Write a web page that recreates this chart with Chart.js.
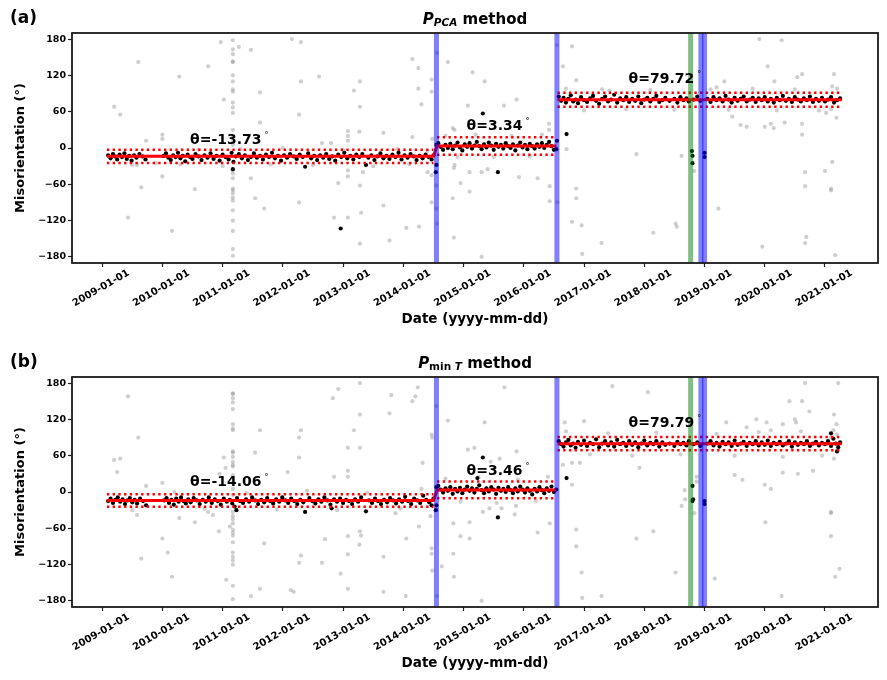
<!DOCTYPE html>
<html><head><meta charset="utf-8">
<script src="https://cdn.jsdelivr.net/npm/chart.js@4/dist/chart.umd.min.js"></script>
<style>
html,body{margin:0;padding:0;background:#fff;overflow:hidden;width:887px;height:680px}
canvas{display:block}
</style></head>
<body>
<canvas id="ca" width="887" height="344"></canvas>
<canvas id="cb" width="887" height="344"></canvas>
<script>
// ---------- axis ticks ----------
const xTickYears = [2009,2010,2011,2012,2013,2014,2015,2016,2017,2018,2019,2020,2021];
const xTickLabels = ['2009-01-01','2010-01-01','2011-01-01','2012-01-01','2013-01-01','2014-01-01','2015-01-01','2016-01-01','2017-01-01','2018-01-01','2019-01-01','2020-01-01','2021-01-01'];
const yTickValues = [-180,-120,-60,0,60,120,180];
const yTickLabels = ['\u2212180','\u2212120','\u221260','0','60','120','180'];

// ---------- change points (decimal years) ----------
const blueLines = [2014.55, 2016.55, 2018.94, 2019.0];
const greenLines = [2018.77];

// ---------- segments ----------
const segStart = [2009.08, 2014.56, 2016.56];
const segEnd   = [2014.50, 2016.54, 2021.28];
const thetaA = [-13.73, 3.34, 79.72];
const bandHalfA = [11.0, 14.5, 11.7];
const thetaB = [-14.06, 3.46, 79.79];
const bandHalfB = [10.3, 13.8, 10.9];

// ---------- panel (a) points [year, degrees] ----------
const grayA = [
[2009.2,68],[2009.3,55],[2009.6,142],[2009.73,12],[2010.0,22],[2010.0,15],[2010.28,118],[2010.76,135],[2010.97,175],[2011.02,80],
[2011.17,178],[2011.17,163],[2011.17,155],[2011.17,143],[2011.17,142],[2011.17,120],[2011.17,110],[2011.17,97],[2011.17,93],[2011.17,75],[2011.17,67],[2011.17,58],[2011.17,30],[2011.17,20],[2011.17,10],[2011.17,5],
[2011.17,-37],[2011.17,-42],[2011.17,-50],[2011.17,-67],[2011.17,-70],[2011.17,-75],[2011.17,-82],[2011.17,-87],[2011.17,-103],[2011.17,-120],[2011.17,-137],[2011.17,-167],[2011.17,-178],
[2011.27,167],[2011.47,162],[2011.62,92],[2011.62,42],[2012.15,180],[2012.3,175],[2012.27,55],[2012.3,110],[2012.6,118],[2012.65,8],[2012.8,8],
[2013.08,28],[2013.08,20],[2013.08,12],[2013.18,95],[2013.28,110],[2013.28,68],[2013.27,27],[2013.67,25],[2014.15,147],[2014.25,98],[2014.25,132],[2014.3,72],[2014.15,18],[2014.47,113],[2014.47,93],[2014.48,15],
[2009.58,-28],[2009.65,-65],[2009.43,-115],[2010.0,-47],[2010.16,-137],[2010.54,-68],[2011.47,-50],[2011.54,-83],[2011.69,-100],[2012.27,-90],[2012.85,-115],[2012.92,-58],
[2013.08,-37],[2013.08,-47],[2013.08,-115],[2013.28,-62],[2013.3,-107],[2013.28,-158],[2013.33,-40],[2013.67,-95],[2013.77,-153],[2014.05,-132],[2014.26,-130],[2014.47,-90],[2014.4,-40],[2014.47,-45],
[2009.5,-28],[2009.9,-25],[2010.3,-27],[2010.6,-3],[2011.0,-30],[2011.3,-2],[2011.8,-27],[2012.0,0],[2012.5,-28],[2013.0,-3],[2013.5,-30],[2013.9,-2],[2014.1,-27],[2014.4,-5],
[2014.56,157],[2014.55,-62],[2014.55,-100],[2014.56,-125],[2016.55,170],[2016.56,-90],
[2014.74,142],[2015.15,125],[2015.35,110],[2015.88,80],[2015.67,70],[2015.07,70],[2014.82,33],[2014.85,30],[2016.42,40],[2016.42,30],[2016.65,135],[2016.8,168],[2016.87,112],[2017.42,95],[2018.3,118],
[2019.91,180],[2020.28,178],[2020.05,135],[2019.33,110],[2019.2,100],[2020.16,110],[2020.54,117],[2020.62,122],[2021.15,122],[2021.12,102],[2019.46,52],[2019.6,38],[2019.7,35],[2020.0,35],[2020.1,40],[2020.15,33],[2020.33,42],[2020.62,22],[2020.62,40],[2021.02,58],[2021.19,50],
[2014.7,20],[2014.9,-15],[2015.2,22],[2015.5,-15],[2015.8,20],[2016.1,-14],[2016.3,22],
[2016.7,98],[2017.0,62],[2017.3,97],[2017.7,64],[2018.1,96],[2018.5,63],[2019.1,97],[2019.4,63],[2019.8,98],[2020.2,62],[2020.5,97],[2020.9,62],[2021.2,98],[2021.1,64],
[2014.85,-28],[2014.84,-33],[2014.95,-58],[2014.82,-83],[2014.84,-148],[2015.1,-40],[2015.1,-72],[2015.3,-40],[2015.3,-180],[2015.4,-35],[2015.92,-48],[2016.23,-50],[2016.43,-63],[2016.43,-88],
[2016.71,-2],[2016.87,-67],[2016.87,-83],[2016.8,-122],[2016.96,-128],[2016.97,-175],[2017.29,-157],[2017.87,-10],[2018.15,-140],[2018.52,-125],[2018.54,-130],[2018.62,-13],[2018.83,-38],
[2019.23,-100],[2019.96,-163],[2020.67,-40],[2020.67,-63],[2020.69,-147],[2020.67,-157],[2021.0,-38],[2021.12,-23],[2021.1,-67],[2021.1,-70],[2021.17,-177]
];
const blackA = [
[2009.10,-12],[2009.14,-17],[2009.18,-10],[2009.21,-14],[2009.25,-19],[2009.29,-11],[2009.33,-15],[2009.37,-9],[2009.41,-18],[2009.45,-13],[2009.49,-21],[2009.53,-12],[2009.57,-16],[2009.62,-10],[2009.67,-14],[2009.72,-19],
[2010.02,-13],[2010.06,-9],[2010.10,-16],[2010.14,-20],[2010.18,-12],[2010.22,-15],[2010.26,-8],[2010.30,-17],[2010.34,-13],[2010.38,-22],[2010.42,-11],[2010.46,-15],[2010.50,-18],[2010.55,-10],[2010.60,-14],[2010.65,-20],
[2010.70,-12],[2010.75,-16],[2010.80,-9],[2010.85,-18],[2010.90,-13],[2010.95,-21],[2011.00,-11],[2011.05,-15],[2011.10,-19],[2011.15,-8],[2011.18,-23],[2011.22,-14],[2011.27,-10],[2011.32,-17],[2011.37,-12],[2011.42,-20],
[2011.47,-15],[2011.52,-9],[2011.57,-16],[2011.62,-13],[2011.67,-19],[2011.72,-11],[2011.77,-15],[2011.82,-8],[2011.87,-17],[2011.92,-13],[2011.97,-21],[2012.02,-12],[2012.07,-16],[2012.12,-10],[2012.18,-14],[2012.23,-18],
[2012.28,-11],[2012.33,-15],[2012.42,-9],[2012.47,-17],[2012.52,-13],[2012.57,-20],[2012.62,-12],[2012.67,-16],[2012.72,-10],[2012.77,-18],[2012.82,-14],[2012.87,-21],[2012.92,-11],[2012.97,-15],[2013.02,-8],[2013.07,-17],
[2013.12,-13],[2013.17,-19],[2013.22,-11],[2013.27,-15],[2013.32,-10],[2013.42,-16],[2013.47,-12],[2013.52,-20],[2013.57,-14],[2013.62,-9],[2013.67,-17],[2013.72,-13],[2013.77,-18],[2013.82,-11],[2013.87,-15],[2013.92,-8],
[2013.97,-19],[2014.02,-12],[2014.07,-16],[2014.12,-10],[2014.17,-14],[2014.22,-20],[2014.27,-13],[2014.32,-17],[2014.37,-11],[2014.42,-15],[2014.47,-19],[2014.50,-12],
[2012.96,-133],[2012.37,-31],[2013.38,-28],[2011.17,-35],[2014.54,-40],[2014.55,-28],[2014.55,5],
[2014.58,8],[2014.62,2],[2014.66,-3],[2014.70,5],[2014.74,0],[2014.78,7],[2014.82,-2],[2014.86,4],[2014.90,9],[2014.94,1],[2014.98,-4],[2015.02,6],[2015.06,2],[2015.10,8],[2015.14,-1],[2015.18,4],
[2015.22,10],[2015.26,3],[2015.30,-2],[2015.34,6],[2015.38,1],[2015.42,9],[2015.46,4],[2015.50,-3],[2015.54,7],[2015.58,2],[2015.62,5],[2015.66,-1],[2015.70,8],[2015.74,3],[2015.78,0],[2015.82,6],
[2015.86,-4],[2015.90,4],[2015.94,9],[2015.98,1],[2016.02,5],[2016.06,-2],[2016.10,7],[2016.14,3],[2016.18,-1],[2016.22,6],[2016.26,2],[2016.30,8],[2016.34,0],[2016.38,5],[2016.42,10],[2016.46,3],[2016.50,-3],
[2015.32,57],[2016.71,23],[2015.57,-40],[2016.54,-2],[2016.55,12],
[2016.58,85],[2016.62,78],[2016.66,83],[2016.70,75],[2016.74,81],[2016.78,87],[2016.82,77],[2016.86,80],[2016.90,74],[2016.95,84],[2017.00,79],[2017.05,76],[2017.10,82],[2017.15,86],[2017.20,78],[2017.25,73],
[2017.30,81],[2017.35,85],[2017.40,77],[2017.45,80],[2017.50,88],[2017.55,75],[2017.60,82],[2017.65,79],[2017.70,84],[2017.75,76],[2017.80,81],[2017.85,78],[2017.90,85],[2017.95,74],[2018.00,80],[2018.05,83],
[2018.10,77],[2018.15,81],[2018.20,86],[2018.25,76],[2018.30,79],[2018.35,83],[2018.42,78],[2018.50,81],[2018.55,75],[2018.60,84],[2018.65,79],[2018.70,82],[2018.74,77],[2018.82,80],[2018.88,85],[2018.93,78],
[2019.05,81],[2019.10,76],[2019.15,84],[2019.20,79],[2019.25,82],[2019.30,77],[2019.35,86],[2019.40,80],[2019.45,75],[2019.50,83],[2019.55,78],[2019.60,81],[2019.65,85],[2019.70,77],[2019.75,80],[2019.80,83],
[2019.85,76],[2019.90,82],[2019.95,79],[2020.00,84],[2020.05,77],[2020.10,81],[2020.15,75],[2020.20,83],[2020.25,79],[2020.30,86],[2020.35,78],[2020.40,81],[2020.45,76],[2020.50,84],[2020.55,80],[2020.60,77],
[2020.65,82],[2020.70,79],[2020.75,85],[2020.80,76],[2020.85,81],[2020.90,78],[2020.95,83],[2021.00,77],[2021.05,80],[2021.10,84],[2021.15,75],[2021.20,79],[2021.25,82],
[2018.79,-5],[2018.80,-13],[2018.80,-25],[2019.0,-8],[2019.0,-15]
];

// ---------- panel (b) points [year, degrees] ----------
const grayB = [
[2009.2,53],[2009.3,55],[2009.25,33],[2009.43,158],[2009.6,90],[2009.73,10],[2010.0,15],
[2011.17,163],[2011.17,162],[2011.17,155],[2011.17,148],[2011.17,137],[2011.17,112],[2011.17,105],[2011.17,102],[2011.17,67],[2011.17,65],[2011.17,58],[2011.17,50],[2011.17,45],[2011.17,42],[2011.17,28],[2011.17,15],[2011.17,5],[2011.17,-5],
[2011.17,-33],[2011.17,-40],[2011.17,-45],[2011.17,-52],[2011.17,-62],[2011.17,-67],[2011.17,-72],[2011.17,-83],[2011.17,-100],[2011.17,-107],[2011.17,-113],[2011.17,-120],[2011.17,-155],[2011.17,-177],
[2011.02,57],[2011.05,40],[2010.95,30],[2011.54,65],[2011.62,102],[2012.08,33],[2012.27,90],[2012.3,102],[2012.27,57],[2012.83,155],[2012.92,170],[2013.28,180],[2013.28,128],[2013.18,102],[2013.08,73],[2013.28,73],
[2013.08,35],[2013.08,25],[2012.85,25],[2013.77,130],[2013.8,160],[2014.15,150],[2014.2,158],[2014.24,173],[2014.32,48],[2014.47,95],[2014.48,90],[2014.55,142],[2014.74,118],
[2009.58,-38],[2009.65,-110],[2010.0,-77],[2010.09,-100],[2010.16,-140],[2010.28,-43],[2010.54,-50],[2010.76,-33],[2010.84,-38],[2010.94,-65],[2011.06,-145],[2011.12,-57],[2011.47,-172],[2011.62,-160],[2011.69,-85],
[2012.13,-162],[2012.18,-165],[2012.27,-117],[2012.3,-105],[2012.65,-117],[2012.7,-78],[2012.96,-135],[2013.08,-73],[2013.08,-103],[2013.08,-160],[2013.28,-65],[2013.3,-72],[2013.27,-87],[2013.67,-107],[2013.67,-165],
[2013.87,-35],[2014.04,-172],[2014.05,-77],[2014.26,-57],[2014.47,-93],[2014.47,-102],[2014.48,-130],[2014.64,-123],[2014.56,-172],
[2009.5,-30],[2010.2,0],[2010.7,-28],[2011.4,-2],[2011.9,-29],[2012.4,2],[2012.9,-30],[2013.4,-1],[2013.95,-27],[2014.3,5],[2014.45,-40],
[2015.68,173],[2015.35,115],[2015.07,70],[2015.18,73],[2015.88,67],[2015.6,55],[2015.45,50],[2017.47,175],[2018.06,165],[2020.67,180],[2021.22,180],[2020.41,150],[2020.62,150],[2020.74,133],[2020.5,120],[2020.52,115],
[2021.15,128],[2021.19,112],[2021.14,102],[2019.7,107],[2020.03,115],[2020.3,112],[2019.86,120],[2020.1,102],[2019.36,115],[2016.68,115],[2017.0,117],[2016.65,45],[2016.8,48],[2016.93,48],[2016.8,12],[2017.92,40],
[2018.67,3],[2018.68,-12],[2018.87,25],[2018.87,17],[2019.5,28],[2019.63,20],[2020.0,12],[2020.1,5],[2020.3,32],[2020.55,30],[2020.8,35],[2021.1,-35],
[2016.7,100],[2017.1,62],[2017.4,97],[2017.8,60],[2018.2,98],[2018.6,62],[2019.2,96],[2019.5,60],[2019.9,99],[2020.3,58],[2020.6,100],[2020.95,60],[2021.2,95],[2021.15,55],[2021.22,70],[2021.1,90],
[2014.7,22],[2014.95,-16],[2015.25,24],[2015.55,-18],[2015.9,21],[2016.2,-15],[2016.4,25],
[2014.83,-52],[2014.83,-102],[2014.84,-140],[2014.95,-73],[2015.1,-77],[2015.1,-50],[2015.3,-180],[2015.32,-33],[2015.43,-27],[2015.63,-27],[2015.85,-37],[2015.87,-23],[2016.23,-67],[2016.43,-52],
[2016.87,-62],[2016.87,-90],[2016.96,-133],[2016.97,-175],[2017.29,-172],[2017.87,-77],[2018.15,-65],[2018.52,-133],[2018.62,-23],[2018.83,-35],[2019.17,-143],[2020.01,-50],[2020.28,-172],
[2021.1,-33],[2021.1,-73],[2021.24,-127],[2021.17,-140]
];
const blackB = [
[2009.10,-15],[2009.14,-11],[2009.18,-18],[2009.22,-13],[2009.26,-9],[2009.30,-16],[2009.34,-12],[2009.38,-20],[2009.42,-14],[2009.46,-10],[2009.50,-17],[2009.54,-13],[2009.58,-19],[2009.63,-11],[2009.68,-15],[2009.73,-22],
[2010.03,-14],[2010.07,-10],[2010.11,-18],[2010.15,-13],[2010.19,-21],[2010.23,-11],[2010.27,-16],[2010.31,-9],[2010.35,-15],[2010.39,-19],[2010.43,-12],[2010.47,-17],[2010.52,-10],[2010.57,-14],[2010.62,-20],[2010.67,-13],
[2010.72,-16],[2010.77,-9],[2010.82,-18],[2010.87,-12],[2010.92,-15],[2010.97,-21],[2011.02,-11],[2011.07,-16],[2011.12,-13],[2011.16,-19],[2011.20,-24],[2011.24,-10],[2011.29,-15],[2011.34,-18],[2011.39,-12],[2011.44,-16],
[2011.49,-9],[2011.54,-14],[2011.59,-20],[2011.64,-13],[2011.69,-17],[2011.74,-10],[2011.79,-15],[2011.84,-19],[2011.89,-12],[2011.94,-16],[2011.99,-9],[2012.04,-14],[2012.09,-18],[2012.14,-11],[2012.19,-15],[2012.24,-20],
[2012.29,-13],[2012.34,-17],[2012.44,-10],[2012.49,-15],[2012.54,-19],[2012.59,-12],[2012.64,-16],[2012.69,-9],[2012.74,-14],[2012.79,-21],[2012.85,-12],[2012.90,-16],[2012.95,-11],[2013.00,-18],[2013.05,-13],[2013.10,-15],
[2013.15,-20],[2013.20,-12],[2013.25,-16],[2013.30,-9],[2013.43,-14],[2013.48,-18],[2013.53,-11],[2013.58,-15],[2013.63,-20],[2013.68,-13],[2013.73,-17],[2013.78,-10],[2013.83,-14],[2013.88,-19],[2013.93,-12],[2013.98,-16],
[2014.03,-8],[2014.08,-15],[2014.13,-20],[2014.18,-11],[2014.23,-14],[2014.28,-18],[2014.33,-6],[2014.38,-13],[2014.43,-17],[2014.47,-22],[2014.50,-11],
[2012.37,-33],[2013.38,-32],[2011.23,-30],[2012.81,-27],[2014.54,-30],[2014.55,-22],[2014.55,8],
[2014.58,10],[2014.62,4],[2014.66,-1],[2014.70,6],[2014.74,2],[2014.78,8],[2014.82,-3],[2014.86,5],[2014.90,1],[2014.94,7],[2014.98,-2],[2015.02,4],[2015.06,9],[2015.10,2],[2015.14,6],[2015.18,-1],
[2015.22,5],[2015.26,11],[2015.30,3],[2015.34,-2],[2015.38,6],[2015.42,1],[2015.46,8],[2015.50,4],[2015.54,-3],[2015.58,7],[2015.62,2],[2015.66,5],[2015.70,0],[2015.74,8],[2015.78,3],[2015.82,-2],
[2015.86,6],[2015.90,1],[2015.94,9],[2015.98,4],[2016.02,-1],[2016.06,6],[2016.10,2],[2016.14,-4],[2016.18,5],[2016.22,1],[2016.26,8],[2016.30,3],[2016.34,-2],[2016.38,6],[2016.42,2],[2016.46,9],[2016.50,0],
[2015.32,57],[2015.23,23],[2016.71,23],[2015.57,-42],[2016.54,4],
[2016.58,84],[2016.62,79],[2016.66,75],[2016.70,82],[2016.74,86],[2016.78,77],[2016.82,80],[2016.86,73],[2016.90,83],[2016.95,78],[2017.00,85],[2017.05,76],[2017.10,81],[2017.15,79],[2017.20,87],[2017.25,74],
[2017.30,80],[2017.35,84],[2017.40,77],[2017.45,82],[2017.50,75],[2017.55,86],[2017.60,79],[2017.65,81],[2017.70,76],[2017.75,84],[2017.80,78],[2017.85,82],[2017.90,74],[2017.95,80],[2018.00,85],[2018.05,77],
[2018.10,81],[2018.15,79],[2018.20,84],[2018.25,75],[2018.30,82],[2018.35,78],[2018.42,80],[2018.50,76],[2018.55,83],[2018.60,79],[2018.65,81],[2018.70,77],[2018.74,84],[2018.82,79],[2018.88,82],[2018.93,76],
[2019.05,80],[2019.10,84],[2019.15,77],[2019.20,81],[2019.25,75],[2019.30,83],[2019.35,79],[2019.40,82],[2019.45,76],[2019.50,85],[2019.55,78],[2019.60,80],[2019.65,83],[2019.70,76],[2019.75,81],[2019.80,79],
[2019.85,84],[2019.90,77],[2019.95,82],[2020.00,78],[2020.05,85],[2020.10,76],[2020.15,81],[2020.20,79],[2020.25,83],[2020.30,77],[2020.35,80],[2020.40,84],[2020.45,75],[2020.50,82],[2020.55,78],[2020.60,81],
[2020.65,79],[2020.70,84],[2020.75,76],[2020.80,80],[2020.85,83],[2020.90,77],[2020.95,81],[2021.00,79],[2021.05,84],[2021.10,76],[2021.14,88],[2021.18,80],[2021.22,74],[2021.25,82],
[2021.10,97],[2021.20,67],[2018.80,10],[2018.80,-15],[2018.81,-12],[2019.0,-15],[2019.0,-20]
];

// ---------- build ----------
const toXY = arr => arr.map(p => ({x: p[0], y: p[1]}));
function vline(x){ return [{x:x,y:-190},{x:x,y:190}]; }
function redSolid(theta){
  return [
    {x:segStart[0],y:theta[0]},{x:segEnd[0],y:theta[0]},
    {x:segStart[1],y:theta[1]},{x:segEnd[1],y:theta[1]},
    {x:segEnd[1]+0.001,y:null},
    {x:segStart[2],y:theta[2]},{x:segEnd[2],y:theta[2]}
  ];
}
function redBand(theta, half, sign){
  const d=[];
  for(let i=0;i<theta.length;i++){
    d.push({x:segStart[i],y:theta[i]+sign*half[i]},{x:segEnd[i],y:theta[i]+sign*half[i]},{x:segEnd[i]+0.001,y:null});
  }
  return d;
}

const FONT = "'DejaVu Sans', 'Liberation Sans', sans-serif";

const decorPlugin = {
  id: 'decor',
  afterDatasetsDraw(chart){
    const a = chart.chartArea, ctx = chart.ctx;
    ctx.save();
    ctx.strokeStyle = '#1a1a1a'; ctx.lineWidth = 1.8;
    ctx.strokeRect(a.left, a.top, a.right - a.left, a.bottom - a.top);
    ctx.restore();
  },
  afterDraw(chart, args, opts){
    const ctx = chart.ctx, a = chart.chartArea;
    const xs = chart.scales.x, ys = chart.scales.y;
    ctx.save();
    ctx.fillStyle = '#000';
    // rotated date tick labels, centred under their ticks (30 degrees)
    const ang = Math.PI / 6;
    ctx.font = 'bold 10px ' + FONT;
    ctx.textAlign = 'center';
    ctx.textBaseline = 'middle';
    xTickYears.forEach((v, i) => {
      const px = xs.getPixelForValue(v);
      const L = ctx.measureText(xTickLabels[i]).width;
      const H = L * Math.sin(ang) + 10 * Math.cos(ang);
      ctx.save();
      ctx.translate(px - 1, a.bottom + 5 + H / 2);
      ctx.rotate(-ang);
      ctx.fillText(xTickLabels[i], 0, 0);
      ctx.restore();
    });
    ctx.textBaseline = 'alphabetic';
    ctx.textAlign = 'left';
    ctx.font = 'bold 17px ' + FONT;
    ctx.fillText(opts.label, 10, 23);
    let total = 0;
    opts.title.forEach(r => { ctx.font = r.font; r.w = ctx.measureText(r.text).width; total += r.w; });
    let x = (a.left + a.right)/2 - total/2;
    opts.title.forEach(r => { ctx.font = r.font; ctx.fillText(r.text, x, 23.5 + (r.dy||0)); x += r.w; });
    opts.notes.forEach(n => {
      const px = xs.getPixelForValue(n.x), py = ys.getPixelForValue(n.y);
      ctx.font = 'bold 14px ' + FONT;
      const t = '\u03B8=' + n.t.toFixed(2);
      ctx.fillText(t, px, py);
      const w = ctx.measureText(t).width;
      ctx.font = '8px ' + FONT;
      ctx.fillText('\u00B0', px + w + 3, py - 6);
    });
    ctx.restore();
  }
};

function makeChart(id, gray, black, theta, half, label, title, noteX, noteY){
  const datasets = [];
  blueLines.forEach(v => datasets.push({data: vline(v), showLine: true, borderColor: 'rgba(0,0,255,0.5)', borderWidth: 5, pointRadius: 0, order: 0}));
  greenLines.forEach(v => datasets.push({data: vline(v), showLine: true, borderColor: 'rgba(0,128,0,0.5)', borderWidth: 5, pointRadius: 0, order: 0}));
  datasets.push({data: redSolid(theta), showLine: true, spanGaps: false, borderColor: '#ff0000', borderWidth: 3, pointRadius: 0, order: 1});
  datasets.push({data: redBand(theta, half, 1), showLine: true, spanGaps: false, borderColor: '#ff0000', borderWidth: 2.5, borderDash: [2.4, 3.3], pointRadius: 0, order: 1});
  datasets.push({data: redBand(theta, half, -1), showLine: true, spanGaps: false, borderColor: '#ff0000', borderWidth: 2.5, borderDash: [2.4, 3.3], pointRadius: 0, order: 1});
  datasets.push({data: toXY(black), backgroundColor: '#000', borderWidth: 0, pointRadius: 2.1, order: 2});
  datasets.push({data: toXY(gray), backgroundColor: 'rgba(128,128,128,0.38)', borderWidth: 0, pointRadius: 2.1, order: 3});

  const notes = theta.map((t,i) => ({t: t, x: noteX[i], y: noteY[i]}));
  return new Chart(document.getElementById(id), {
    type: 'scatter',
    data: {datasets},
    options: {
      responsive: false, animation: false, devicePixelRatio: 1, events: [],
      layout: {padding: {top: 33, right: 9, left: 0, bottom: 0}},
      plugins: {legend: {display: false}, tooltip: {enabled: false},
        decor: {label: label, title: title, notes: notes}},
      scales: {
        x: {
          type: 'linear', min: 2008.5, max: 2021.88,
          afterBuildTicks: s => { s.ticks = xTickYears.map(v => ({value: v})); },
          afterFit: s => { s.height = 81; },
          grid: {drawOnChartArea: false, drawTicks: true, tickLength: 4, tickColor: '#222', tickWidth: 1.2},
          border: {display: false},
          ticks: {display: false, autoSkip: false},
          title: {display: true, text: 'Date (yyyy-mm-dd)', color: '#000',
            font: {family: FONT, weight: 'bold', size: 13.5}, padding: {top: 2, bottom: 16}}
        },
        y: {
          type: 'linear', min: -190, max: 190,
          afterBuildTicks: s => { s.ticks = yTickValues.map(v => ({value: v})); },
          afterFit: s => { s.width = 72; },
          grid: {drawOnChartArea: false, drawTicks: true, tickLength: 4, tickColor: '#222', tickWidth: 1.2},
          border: {display: false},
          ticks: {padding: 2, color: '#000', font: {family: FONT, weight: 'bold', size: 9.5},
            callback: (v, i) => yTickLabels[i]},
          title: {display: true, text: 'Misorientation (\u00B0)', color: '#000',
            font: {family: FONT, weight: 'bold', size: 13}, padding: {top: 13, bottom: 0}}
        }
      }
    },
    plugins: [decorPlugin]
  });
}

const noteX = [2010.46, 2015.05, 2017.74];
const noteYA = [7, 30, 107];
const noteYB = [10, 28, 107];

makeChart('ca', grayA, blackA, thetaA, bandHalfA, '(a)', [
  {text: 'P', font: 'italic bold 15px ' + FONT},
  {text: 'PCA', font: 'italic bold 10.5px ' + FONT, dy: 2.5},
  {text: ' method', font: 'bold 15px ' + FONT}
], noteX, noteYA);

makeChart('cb', grayB, blackB, thetaB, bandHalfB, '(b)', [
  {text: 'P', font: 'italic bold 15px ' + FONT},
  {text: 'min', font: 'bold 10.5px ' + FONT, dy: 2.5},
  {text: ' ', font: 'bold 10.5px ' + FONT, dy: 2.5},
  {text: 'T', font: 'italic bold 10.5px ' + FONT, dy: 2.5},
  {text: ' method', font: 'bold 15px ' + FONT}
], noteX, noteYB);
</script>
</body></html>
